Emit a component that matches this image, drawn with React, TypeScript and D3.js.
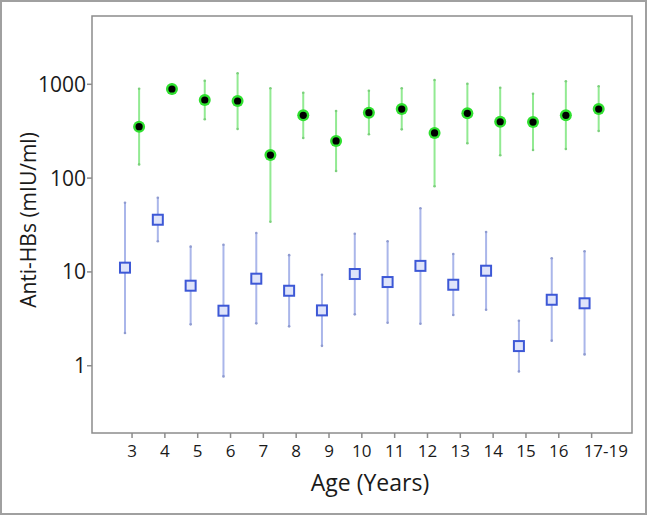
import React from "react";
import * as d3 from "d3";

const ages = ["3", "4", "5", "6", "7", "8", "9", "10", "11", "12", "13", "14", "15", "16", "17-19"];
const greenMean = [353, 891, 680, 664, 176, 467, 249, 498, 545, 303, 491, 399, 396, 467, 545];
const greenUpper = [898, 1000, 1092, 1310, 906, 814, 519, 855, 906, 1111, 1015, 920, 794, 1076, 952];
const greenLower = [140, 800, 424, 334, 34.3, 268, 119, 293, 331, 82, 235, 175, 199, 204, 318];
const blueMean = [11.1, 36, 7.13, 3.86, 8.47, 6.3, 3.89, 9.5, 7.8, 11.6, 7.3, 10.3, 1.62, 5.05, 4.63];
const blueUpper = [54.7, 61.8, 18.6, 19.5, 26, 15.1, 9.33, 25.5, 21.2, 47.7, 15.5, 26.6, 3.02, 14, 16.6];
const blueLower = [2.23, 21.2, 2.76, 0.77, 2.83, 2.63, 1.63, 3.53, 2.87, 2.8, 3.47, 3.95, 0.87, 1.85, 1.32];
const yTicks = [1, 10, 100, 1000];

const W = 647;
const H = 515;
const FONT = "'Open Sans', sans-serif";

export default function App() {
  const x = d3.scaleLinear().domain([-1.22, 15.23]).range([92, 632]);
  const y = d3.scaleLog().domain([Math.pow(10, -0.717), Math.pow(10, 3.728)]).range([433, 16]);
  const off = 0.215;
  const [x0, x1] = x.range();
  const [yb, yt] = y.range();

  return (
    <>
      <style>{"body{margin:0}"}</style>
      <svg width={W} height={H} style={{ display: "block", background: "#fff" }} fontFamily={FONT}>
        <rect x={1} y={1} width={W - 2} height={H - 2} fill="#fff" stroke="#a0a0a0" strokeWidth={2} />
        {/* plot frame */}
        <rect x={x0} y={yt} width={x1 - x0} height={yb - yt} fill="none" stroke="#8c8c8c" strokeWidth={1.5} />
        {/* y ticks */}
        {yTicks.map((t) => (
          <g key={t}>
            <line x1={x0 - 5} x2={x0} y1={y(t)} y2={y(t)} stroke="#8c8c8c" strokeWidth={1.5} />
            <text x={x0 - 6} y={y(t)} dy="0.36em" textAnchor="end" fontSize={21} fill="#1a1a1a">
              {t}
            </text>
          </g>
        ))}
        {/* x ticks */}
        {ages.map((a, i) => (
          <g key={a}>
            <line x1={x(i)} x2={x(i)} y1={yb} y2={yb + 5} stroke="#8c8c8c" strokeWidth={1.5} />
            <text
              x={i === ages.length - 1 ? 628 : x(i)}
              y={457}
              textAnchor={i === ages.length - 1 ? "end" : "middle"}
              fontSize={17}
              fill="#1a1a1a"
            >
              {a}
            </text>
          </g>
        ))}
        {/* axis titles */}
        <text x={370} y={491} textAnchor="middle" fontSize={23} fill="#1a1a1a">
          Age (Years)
        </text>
        <text transform={`translate(36,220) rotate(-90)`} textAnchor="middle" fontSize={21} fill="#1a1a1a">
          Anti-HBs (mIU/ml)
        </text>
        {/* blue series */}
        {ages.map((a, i) => {
          const cx = x(i - off);
          return (
            <g key={"b" + a}>
              <line x1={cx} x2={cx} y1={y(blueUpper[i])} y2={y(blueLower[i])} stroke="#aab6ea" strokeWidth={2} />
              <circle cx={cx} cy={y(blueUpper[i])} r={1.3} fill="#8f9bd0" />
              <circle cx={cx} cy={y(blueLower[i])} r={1.3} fill="#8f9bd0" />
              <rect x={cx - 5} y={y(blueMean[i]) - 5} width={10} height={10} fill="#dfe4fa" stroke="#3d58d6" strokeWidth={2} />
            </g>
          );
        })}
        {/* green series */}
        {ages.map((a, i) => {
          const cx = x(i + off);
          return (
            <g key={"g" + a}>
              <line x1={cx} x2={cx} y1={y(greenUpper[i])} y2={y(greenLower[i])} stroke="#92ea92" strokeWidth={2} />
              <circle cx={cx} cy={y(greenUpper[i])} r={1.3} fill="#7ccf7c" />
              <circle cx={cx} cy={y(greenLower[i])} r={1.3} fill="#7ccf7c" />
              <circle cx={cx} cy={y(greenMean[i])} r={6} fill="#2fe02f" />
              <circle cx={cx} cy={y(greenMean[i])} r={3.6} fill="#000" />
            </g>
          );
        })}
      </svg>
    </>
  );
}
